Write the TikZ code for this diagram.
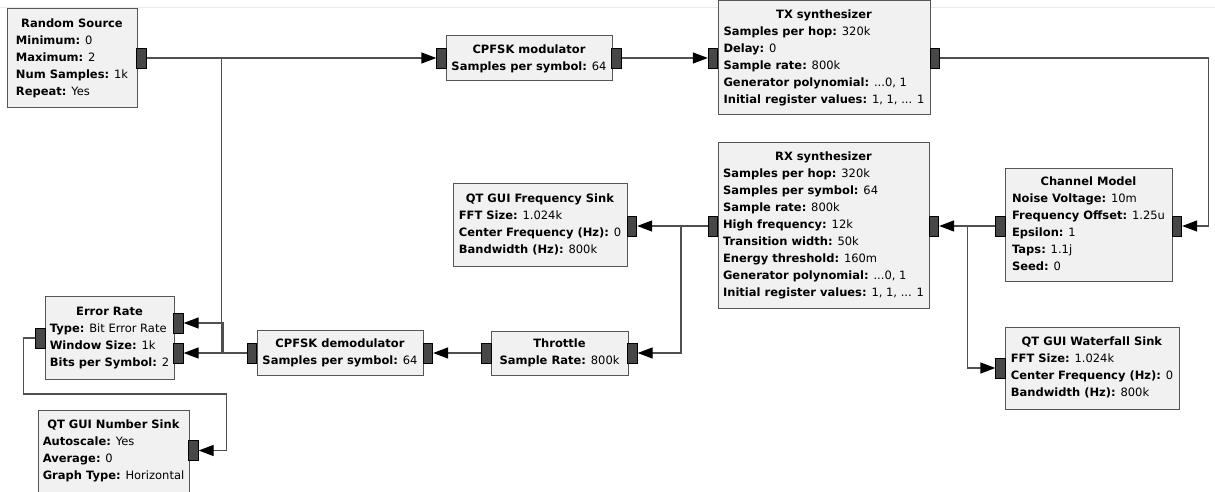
\documentclass[tikz,border=0pt]{standalone}
\usepackage{fontspec}
\setmainfont{DejaVu Sans}
\usetikzlibrary{arrows.meta}
\definecolor{blockfill}{HTML}{F1F1F1}
\definecolor{blockedge}{HTML}{555555}
\definecolor{portfill}{HTML}{474747}
\definecolor{wirecol}{HTML}{505050}
% parameter line: bold key, plain value
\newcommand{\kv}[2]{\textbf{#1:} #2}
% centred block title
\newcommand{\ttl}[1]{\multicolumn{1}{@{}c@{}}{\textbf{#1}}}
\newenvironment{params}{\begin{tabular}{@{}l@{}}}{\end{tabular}}
\begin{document}
\begin{tikzpicture}[x=1pt,y=-1pt,
  font=\fontsize{11.5}{17}\selectfont,
  block/.style={draw=blockedge, fill=blockfill, line width=1pt, inner sep=0pt, text=black},
  port/.style={draw=black, fill=portfill, line width=0.8pt, minimum width=9.5pt, minimum height=20pt, inner sep=0pt},
  wire/.style={draw=wirecol, line width=1.3pt},
  flow/.style={wire, -{Triangle[length=15pt,width=11pt,color=black]}}]
\useasboundingbox (0,0) rectangle (1215,492);
\fill[white] (0,0) rectangle (1215,492);
\draw[black!8, line width=1pt] (0,8) -- (1215,8);

% ---------------- blocks ----------------
\node[block, minimum width=130pt, minimum height=99pt] (src) at (72,58.5) {\begin{params}
\ttl{Random Source}\\ \kv{Minimum}{0}\\ \kv{Maximum}{2}\\ \kv{Num Samples}{1k}\\ \kv{Repeat}{Yes}\end{params}};

\node[block, minimum width=166pt, minimum height=45pt] (mod) at (529,58.5) {\begin{params}
\ttl{CPFSK modulator}\\ \kv{Samples per symbol}{64}\end{params}};

\node[block, minimum width=212pt, minimum height=114pt] (tx) at (824,58) {\begin{params}
\ttl{TX synthesizer}\\ \kv{Samples per hop}{320k}\\ \kv{Delay}{0}\\ \kv{Sample rate}{800k}\\
\kv{Generator polynomial}{...0, 1}\\ \kv{Initial register values}{1, 1, ... 1}\end{params}};

\node[block, minimum width=211pt, minimum height=165pt] (rx) at (823.5,225.5) {\begin{params}
\ttl{RX synthesizer}\\ \kv{Samples per hop}{320k}\\ \kv{Samples per symbol}{64}\\ \kv{Sample rate}{800k}\\
\kv{High frequency}{12k}\\ \kv{Transition width}{50k}\\ \kv{Energy threshold}{160m}\\
\kv{Generator polynomial}{...0, 1}\\ \kv{Initial register values}{1, 1, ... 1}\end{params}};

\node[block, minimum width=174pt, minimum height=83pt] (fsink) at (540,225) {\begin{params}
\ttl{QT GUI Frequency Sink}\\ \kv{FFT Size}{1.024k}\\ \kv{Center Frequency (Hz)}{0}\\ \kv{Bandwidth (Hz)}{800k}\end{params}};

\node[block, minimum width=167pt, minimum height=113pt] (chan) at (1088.5,224.5) {\begin{params}
\ttl{Channel Model}\\ \kv{Noise Voltage}{10m}\\ \kv{Frequency Offset}{1.25u}\\ \kv{Epsilon}{1}\\ \kv{Taps}{1.1j}\\ \kv{Seed}{0}\end{params}};

\node[block, minimum width=174pt, minimum height=82pt] (wfall) at (1092,368) {\begin{params}
\ttl{QT GUI Waterfall Sink}\\ \kv{FFT Size}{1.024k}\\ \kv{Center Frequency (Hz)}{0}\\ \kv{Bandwidth (Hz)}{800k}\end{params}};

\node[block, minimum width=129pt, minimum height=83pt] (err) at (109.5,337.5) {\begin{params}
\ttl{Error Rate}\\ \kv{Type}{Bit Error Rate}\\ \kv{Window Size}{1k}\\ \kv{Bits per Symbol}{2}\end{params}};

\node[block, minimum width=166pt, minimum height=45pt] (demod) at (340,353) {\begin{params}
\ttl{CPFSK demodulator}\\ \kv{Samples per symbol}{64}\end{params}};

\node[block, minimum width=137pt, minimum height=44pt] (thr) at (559.5,353) {\begin{params}
\ttl{Throttle}\\ \kv{Sample Rate}{800k}\end{params}};

\node[block, minimum width=151pt, minimum height=82pt] (nsink) at (113.5,451) {\begin{params}
\ttl{QT GUI Number Sink}\\ \kv{Autoscale}{Yes}\\ \kv{Average}{0}\\ \kv{Graph Type}{Horizontal}\end{params}};

% ---------------- ports ----------------
\node[port] (src-o) at (141.5,58) {};
\node[port] (mod-i) at (441.5,58) {};
\node[port] (mod-o) at (616.5,58) {};
\node[port] (tx-i) at (713,58) {};
\node[port] (tx-o) at (935,58) {};
\node[port] (rx-o) at (713,226) {};
\node[port] (rx-i) at (934,226) {};
\node[port] (fs-i) at (632,226) {};
\node[port] (ch-o) at (1000.5,226) {};
\node[port] (ch-i) at (1177,226) {};
\node[port] (wf-i) at (1000.5,368) {};
\node[port] (er-i0) at (178.5,323) {};
\node[port] (er-i1) at (178.5,353) {};
\node[port] (er-o) at (40.5,338) {};
\node[port] (dm-i) at (428,353) {};
\node[port] (dm-o) at (252,353) {};
\node[port] (th-i) at (632.5,353) {};
\node[port] (th-o) at (486.5,353) {};
\node[port] (ns-i) at (193.5,450.5) {};

% ---------------- connections ----------------
\draw[flow] (src-o.east) -- (mod-i.west);
\draw[flow] (src-o.east) -- ++(75,0) |- (er-i1.east);
\draw[flow] (mod-o.east) -- (tx-i.west);
\draw[flow] (tx-o.east) -| ([xshift=26pt]ch-i.east) -- (ch-i.east);
\draw[flow] (ch-o.west) -- (rx-i.east);
\draw[flow] (ch-o.west) -- ++(-28,0) |- (wf-i.west);
\draw[flow] (rx-o.west) -- (fs-i.east);
\draw[flow] (rx-o.west) -- ++(-27,0) |- (th-i.east);
\draw[flow] (th-o.west) -- (dm-i.east);
\draw[flow] (dm-o.west) -- ++(-24,0) |- (er-i0.east);
\draw[flow] (er-o.west) -- ++(-12,0) -- ++(0,56) -| ([xshift=28pt]ns-i.east) -- (ns-i.east);
\end{tikzpicture}
\end{document}
